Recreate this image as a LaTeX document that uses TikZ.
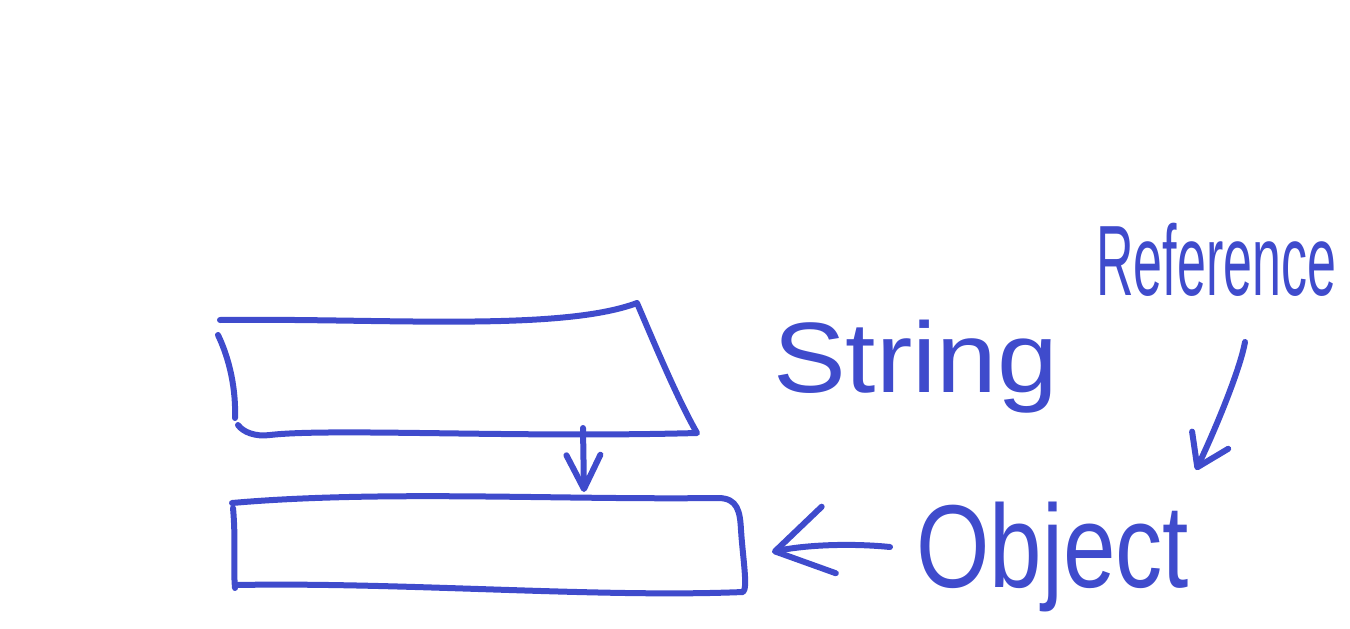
\documentclass[tikz,border=0pt]{standalone}
\usepackage{fontspec}
\setmainfont{Liberation Sans}
\usetikzlibrary{arrows.meta}
\definecolor{ink}{HTML}{3F4BCC}
\tikzset{
  pen/.style={draw=ink, line width=6pt, line cap=round, line join=round},
  lbl/.style={text=ink, inner sep=0pt, anchor=base west},
}
\begin{document}
\begin{tikzpicture}[x=1pt,y=-1pt]
\useasboundingbox (0,0) rectangle (1350,629);
% top box (string)
\coordinate (tbTL) at (220,320);
\coordinate (tbTR) at (637,303);
\coordinate (tbBR) at (697,433);
\coordinate (tbBL) at (238,425);
\coordinate (tbLT) at (218,335);
\coordinate (tbLB) at (235,418);
\draw[pen] (tbTL) .. controls (380,318) and (560,332) .. (tbTR)
  .. controls (655,345) and (678,400) .. (tbBR)
  .. controls (520,438) and (330,428) .. (270,435) .. controls (255,437) and (243,432) .. (tbBL);
\draw[pen] (tbLT) .. controls (230,360) and (236,390) .. (tbLB);
% bottom box (object)
\coordinate (bbTL) at (232,503);
\coordinate (bbTR) at (718,498);
\coordinate (bbBR) at (743,592);
\coordinate (bbBL) at (237,585);
\coordinate (bbR) at (772,552);
\draw[pen] (bbTL) .. controls (380,490) and (560,500) .. (bbTR)
  .. controls (738,498) and (740,512) .. (741,530)
  .. controls (743,560) and (748,588) .. (bbBR)
  .. controls (600,598) and (400,582) .. (bbBL);
\draw[pen] (233,508) .. controls (236,540) and (233,565) .. (235,588);
% arrow string -> object
\coordinate (aTop) at (583,428);
\coordinate (aBot) at (584,492);
\draw[pen, -{Straight Barb[length=34pt,width=34pt,round]}] (aTop) -- (aBot);
% labels
\node[lbl, font=\fontsize{100}{100}\selectfont] (string) at (773,392) {\scalebox{1.09}[1]{String}};
\node[lbl, font=\fontsize{118}{118}\selectfont] (object) at (916,587) {\scalebox{0.8}[1]{Object}};
\node[lbl, font=\fontsize{100}{100}\selectfont] (reference) at (1096,295) {\scalebox{0.52}[1]{Reference}};
% arrow object label -> box
\coordinate (oArrS) at (890,547);
\draw[pen, -{Straight Barb[length=55pt,width=68pt,round]}] (oArrS) .. controls (850,543) and (805,545) .. (bbR);
% arrow reference -> object
\coordinate (rArrS) at (1245,342);
\coordinate (rArrE) at (1196,470);
\draw[pen, -{Straight Barb[length=30pt,width=40pt,round]}] (rArrS) .. controls (1240,370) and (1215,430) .. (rArrE);
\end{tikzpicture}
\end{document}
